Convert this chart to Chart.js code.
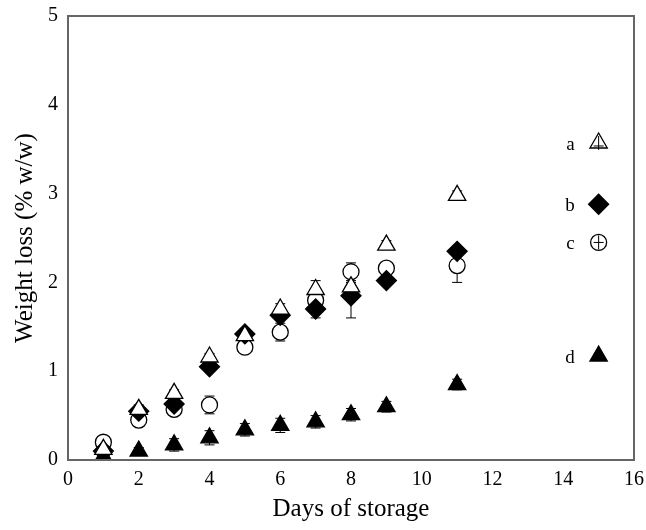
<!DOCTYPE html><html><head><script src="https://cdn.jsdelivr.net/npm/chart.js"></script>
<style>body{margin:0;background:#fff}#w{width:646px;height:530px}</style></head><body><div id="w"><canvas id="c"></canvas></div><script>
const days=[1,2,3,4,5,6,7,8,9,11];
const seriesA=[0.12,0.57,0.75,1.16,1.4,1.7,1.92,1.95,2.42,2.98];
const errA=[0.02,0.05,0.04,0.04,0.04,0.06,0.1,0.05,0.05,0.05];
const seriesB=[0.1,0.55,0.63,1.05,1.42,1.63,1.7,1.85,2.02,2.35];
const errB=[0.02,0.04,0.04,0.05,0.06,0.05,0.1,0.25,0.03,0.03];
const seriesC=[0.2,0.45,0.57,0.62,1.27,1.44,1.8,2.12,2.16,2.19];
const errC=[0.03,0.04,0.06,0.1,0.03,0.1,0.05,0.1,0.05,0.19];
const seriesD=[0.04,0.1,0.17,0.25,0.34,0.39,0.43,0.51,0.6,0.85];
const errD=[0.03,0.04,0.07,0.08,0.07,0.08,0.07,0.07,0.06,0.06];
const legendLabels=['a','b','c','d'];
const legendY=[3.57,2.88,2.45,1.17];
const xTicks=[0,2,4,6,8,10,12,14,16];
const pts=(v)=>days.map((d,i)=>({x:d,y:v[i]}));
const sets=[
 {v:seriesA,e:errA,style:'triangle',bg:'#fff',r:10},
 {v:seriesB,e:errB,style:'rectRot',bg:'#000',r:10},
 {v:seriesC,e:errC,style:'circle',bg:'#fff',r:8},
 {v:seriesD,e:errD,style:'triangle',bg:'#000',r:10}];
const ds=sets.map(s=>({data:pts(s.v),pointStyle:s.style,pointRadius:s.r,backgroundColor:s.bg,borderColor:'#000',borderWidth:1.3,showLine:false}));
sets.forEach((s,i)=>ds.push({data:[{x:15,y:legendY[i]}],pointStyle:s.style,pointRadius:s.r,backgroundColor:s.bg,borderColor:'#000',borderWidth:1.3}));
const errPlugin={id:'err',
 beforeDatasetsDraw(ch){const c=ch.ctx,x=ch.scales.x,y=ch.scales.y;c.save();c.strokeStyle='#000';c.lineWidth=1;
 sets.forEach(s=>days.forEach((d,i)=>{const px=x.getPixelForValue(d),lo=y.getPixelForValue(s.v[i]-s.e[i]),hi=y.getPixelForValue(s.v[i]+s.e[i]);
 c.beginPath();c.moveTo(px,lo);c.lineTo(px,hi);c.moveTo(px-5,lo);c.lineTo(px+5,lo);c.moveTo(px-5,hi);c.lineTo(px+5,hi);c.stroke();}));c.restore();},
 afterDatasetsDraw(ch){const c=ch.ctx,x=ch.scales.x,y=ch.scales.y;c.save();c.strokeStyle='#000';c.lineWidth=1;
 const lx=x.getPixelForValue(15);
 [0,2].forEach(i=>{const py=y.getPixelForValue(legendY[i]);c.beginPath();c.moveTo(lx,py-7);c.lineTo(lx,py+7);c.moveTo(lx-5,py+(i?0:3));c.lineTo(lx+5,py+(i?0:3));c.stroke();});
 c.fillStyle='#000';c.font='19px "Liberation Serif"';c.textAlign='right';c.textBaseline='middle';
 legendLabels.forEach((l,i)=>c.fillText(l,lx-24,y.getPixelForValue(legendY[i])+2));
 c.strokeStyle='#666';c.lineWidth=2;c.strokeRect(ch.chartArea.left,ch.chartArea.top,ch.chartArea.right-ch.chartArea.left,ch.chartArea.bottom-ch.chartArea.top);
 c.restore();}};
new Chart(document.getElementById('c'),{type:'scatter',data:{datasets:ds},plugins:[errPlugin],
options:{animation:false,responsive:true,maintainAspectRatio:false,layout:{padding:{top:12,right:12,left:6,bottom:2}},
plugins:{legend:{display:false},tooltip:{enabled:false}},
scales:{x:{type:'linear',min:0,max:16,afterBuildTicks:a=>{a.ticks=xTicks.map(v=>({value:v}))},
 grid:{display:false,drawTicks:true,tickLength:6,color:'#000'},border:{color:'#666',width:2},
 ticks:{color:'#000',font:{family:'Liberation Serif',size:20},padding:2},
 title:{display:true,text:'Days of storage',color:'#000',font:{family:'Liberation Serif',size:25},padding:{top:0}}},
 y:{min:0,max:5,ticks:{stepSize:1,color:'#000',font:{family:'Liberation Serif',size:20},padding:4},
 grid:{display:false,drawTicks:true,tickLength:6},border:{color:'#666',width:2},
 title:{display:true,text:'Weight loss (% w/w)',color:'#000',font:{family:'Liberation Serif',size:25}}}}}});
</script></body></html>
